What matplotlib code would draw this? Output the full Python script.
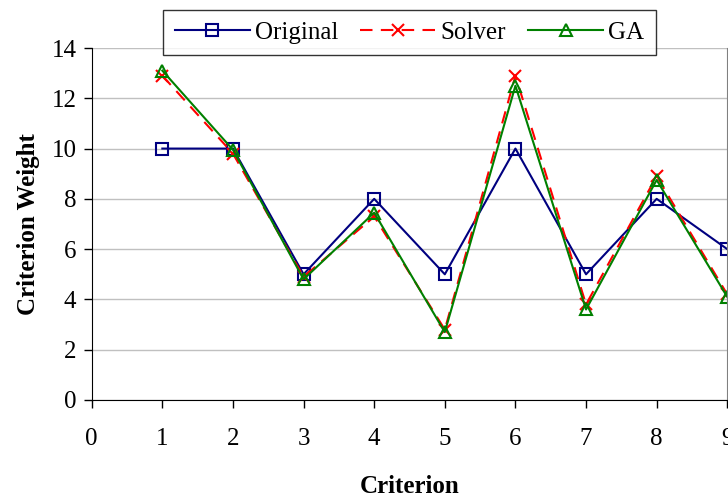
import matplotlib
matplotlib.use("Agg")
import matplotlib.pyplot as plt

criteria = [1, 2, 3, 4, 5, 6, 7, 8, 9]
original = [10, 10, 5, 8, 5, 10, 5, 8, 6]
solver = [12.9, 9.8, 4.9, 7.3, 2.8, 12.9, 3.8, 8.9, 4.2]
ga = [13.1, 9.95, 4.8, 7.45, 2.7, 12.5, 3.6, 8.75, 4.1]

plt.rcParams['font.family'] = ['Liberation Serif', 'DejaVu Serif']

fig = plt.figure(figsize=(7.28, 5.0), dpi=100)
ax = fig.add_axes([0.126, 0.2, 0.873, 0.704])

ax.plot(criteria, original, color='#000080', lw=1.5, marker='s', ms=8,
        mfc='none', mec='#000080', mew=1.5, label='Original')
ax.plot(criteria, solver, color='#ff0000', lw=1.5, ls=(0, (6, 4)), marker='x', ms=9,
        mew=1.5, label='Solver')
ax.plot(criteria, ga, color='#008000', lw=1.5, marker='^', ms=9,
        mfc='none', mec='#008000', mew=1.5, label='GA')

ax.set_xlim(0, 9)
ax.set_ylim(0, 14)
ax.set_xticks(range(0, 10))
ax.set_yticks(range(0, 15, 2))
ax.grid(axis='y', color='#c0c0c0', lw=1)
ax.set_axisbelow(True)
ax.tick_params(labelsize=18, direction='out', length=6, pad=14, width=1)
ax.tick_params(axis='y', pad=5)
ax.spines['top'].set_visible(False)
ax.spines['right'].set_color('#808080')
ax.set_xlabel('Criterion', fontsize=18, fontweight='bold', labelpad=18)
ax.set_ylabel('Criterion Weight', fontsize=18, fontweight='bold', labelpad=8)

leg = fig.legend(loc='upper left', bbox_to_anchor=(0.214, 0.995), ncol=3,
                 fontsize=18, frameon=True, fancybox=False, edgecolor='black',
                 handlelength=3.0, columnspacing=0.9, handletextpad=0.2,
                 borderpad=0.45, borderaxespad=0.3)
leg.get_frame().set_linewidth(1)

fig.savefig('out.png', dpi=100)
